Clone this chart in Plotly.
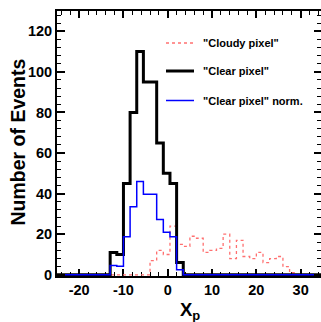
import numpy as np
import plotly.graph_objects as go

# Bin edges: 40 bins of width 1.5 from -25 to 35
bin_edges = [-25 + 1.5 * k for k in range(41)]

cloudy_pixel = [0]*14 + [7, 12, 10, 24, 15, 14, 19, 18, 11, 12, 13, 20, 8, 17, 9, 8, 11, 6, 8, 9, 4, 1] + [0]*4
clear_pixel = [0]*8 + [11, 10, 45, 80, 110, 95, 95, 65, 50, 45, 6] + [0]*21
clear_pixel_norm = [0]*8 + [4.6, 4.2, 18.8, 33.5, 46.0, 39.7, 39.7, 27.2, 20.9, 18.8, 2.5] + [0]*21

x_ticks = [-20, -10, 0, 10, 20, 30]
y_ticks = [0, 20, 40, 60, 80, 100, 120]

legend_labels = ['"Cloudy pixel"', '"Clear pixel"', '"Clear pixel" norm.']

FONT = "Liberation Sans, Arial, Helvetica, sans-serif"

W, H = 321, 322
L, R, T, B = 57, 0, 11, 46
pw = W - L - R
ph = H - T - B
xmin = -25
xmax = xmin + pw / 4.43
ymin, ymax = -0.6, 130

def step(vals):
    return list(vals) + [vals[-1]]

RED = "#ff7070"

fig = go.Figure()
fig.add_trace(go.Scatter(x=bin_edges, y=step(cloudy_pixel), mode="lines", line_shape="hv",
                         line=dict(color=RED, width=1.3, dash="dot"), showlegend=False, hoverinfo="skip"))
fig.add_trace(go.Scatter(x=bin_edges, y=step(clear_pixel), mode="lines", line_shape="hv",
                         line=dict(color="black", width=3), showlegend=False, hoverinfo="skip"))
fig.add_trace(go.Scatter(x=bin_edges, y=step(clear_pixel_norm), mode="lines", line_shape="hv",
                         line=dict(color="#0000ff", width=1.5), showlegend=False, hoverinfo="skip"))
fig.add_trace(go.Scatter(x=[0], y=[0], yaxis="y2", mode="markers", marker=dict(opacity=0),
                         showlegend=False, hoverinfo="skip"))

tickfont = dict(family=FONT, size=14.5, color="black", weight="bold")

fig.update_layout(
    width=W, height=H,
    margin=dict(l=L, r=R, t=T, b=B, pad=0),
    paper_bgcolor="white", plot_bgcolor="white",
    xaxis=dict(range=[xmin, xmax], tickmode="array", tickvals=x_ticks, ticktext=[str(v) for v in x_ticks],
               ticks="inside", ticklen=7, tickwidth=1.5, tickcolor="black",
               minor=dict(dtick=2, tick0=0, ticks="inside", ticklen=4, tickwidth=1.2, tickcolor="black", showgrid=False),
               showline=True, linecolor="black", linewidth=2, mirror="ticks",
               showgrid=False, zeroline=False, tickfont=tickfont, layer="below traces"),
    yaxis=dict(range=[ymin, ymax], tickmode="array", tickvals=y_ticks, ticktext=[str(v) for v in y_ticks],
               ticks="inside", ticklen=7.5, tickwidth=1.5, tickcolor="black",
               minor=dict(dtick=4, tick0=0, ticks="inside", ticklen=4, tickwidth=1.2, tickcolor="black", showgrid=False),
               showline=True, linecolor="black", linewidth=2, mirror=False,
               showgrid=False, zeroline=False, tickfont=tickfont),
    yaxis2=dict(range=[ymin, ymax], overlaying="y", side="right", anchor="x",
                tickmode="array", tickvals=y_ticks, showticklabels=False,
                ticks="inside", ticklen=7.5, tickwidth=1.5, tickcolor="black",
                minor=dict(dtick=4, tick0=0, ticks="inside", ticklen=4, tickwidth=1.2, tickcolor="black", showgrid=False),
                showline=False, showgrid=False, zeroline=False),
)

def px2paper_x(px):
    return (px - L) / pw

def py2paper_y(py):
    return (H - B - py) / ph

# Axis titles
fig.add_annotation(text="Number of Events", textangle=-90, xref="paper", yref="paper",
                   x=px2paper_x(17), y=py2paper_y(142.5), xanchor="center", yanchor="middle",
                   showarrow=False, font=dict(family=FONT, size=19.5, color="black", weight="bold"))
fig.add_annotation(text="X<sub>p</sub>", xref="paper", yref="paper",
                   x=px2paper_x(190), y=py2paper_y(311), xanchor="center", yanchor="middle",
                   showarrow=False, font=dict(family=FONT, size=18.5, color="black", weight="bold"))

# Legend
leg_styles = [dict(color=RED, width=1.3, dash="dot"),
              dict(color="black", width=3),
              dict(color="#0000ff", width=1.5)]
leg_y = [43, 71, 100.5]
for lab, sty, py in zip(legend_labels, leg_styles, leg_y):
    fig.add_shape(type="line", xref="paper", yref="paper",
                  x0=px2paper_x(166), x1=px2paper_x(194), y0=py2paper_y(py), y1=py2paper_y(py), line=sty)
    fig.add_annotation(text=lab, xref="paper", yref="paper", x=px2paper_x(200.5), y=py2paper_y(py),
                       xanchor="left", yanchor="middle", showarrow=False,
                       font=dict(family=FONT, size=11, color="black", weight="bold"))

fig.write_html("out.html")
